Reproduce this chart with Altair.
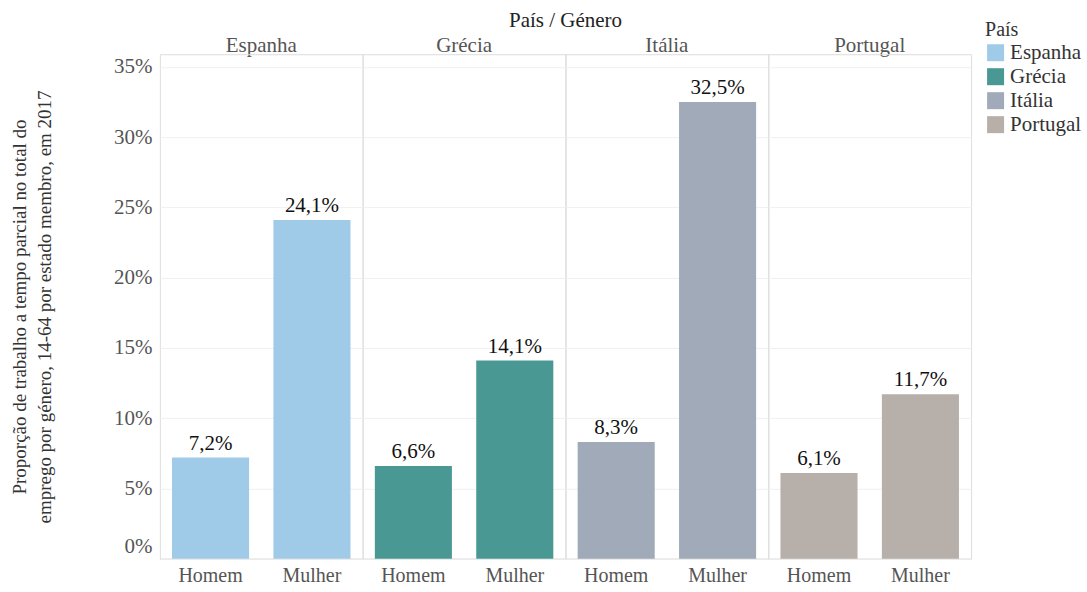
import altair as alt
import pandas as pd

countries = ["Espanha", "Grécia", "Itália", "Portugal"]
genders = ["Homem", "Mulher"]
homem = [0.072, 0.066, 0.083, 0.061]
mulher = [0.241, 0.141, 0.325, 0.117]
colors = ["#a0cbe8", "#499894", "#a0aab8", "#b7afa9"]

rows = []
for c, h, m in zip(countries, homem, mulher):
    rows.append({"País": c, "Género": "Homem", "valor": h})
    rows.append({"País": c, "Género": "Mulher", "valor": m})
df = pd.DataFrame(rows)

FONT = "Liberation Serif"

base = alt.Chart().encode(
    x=alt.X("Género:N", sort=genders, title=None,
            scale=alt.Scale(paddingInner=0.24, paddingOuter=0.12),
            axis=alt.Axis(labelAngle=0, labelFontSize=20, labelColor="#555555",
                          labelPadding=7, ticks=False, domainColor="#cccccc",
                          labelFont=FONT)),
    y=alt.Y("valor:Q", title=["Proporção de trabalho a tempo parcial no total do",
                              "emprego por género, 14-64 por estado membro, em 2017"],
            scale=alt.Scale(domain=[0, 0.359], nice=False),
            axis=alt.Axis(values=[0, 0.05, 0.1, 0.15, 0.2, 0.25, 0.3, 0.35],
                          format=".0%", labelFontSize=21, labelColor="#555555",
                          labelFont=FONT, titleFont=FONT,
                          labelPadding=8, ticks=False, domain=False,
                          gridColor="#f0f0f0", titleFontSize=19,
                          titleFontWeight="normal", titleColor="#333333",
                          titlePadding=59, titleLineHeight=25,
                          labelOffset={"condition": {"test": "datum.value == 0", "value": -12}, "value": 0})),
)

bars = base.mark_bar().encode(
    color=alt.Color("País:N", sort=countries,
                    scale=alt.Scale(domain=countries, range=colors),
                    legend=alt.Legend(title="País", titleFontSize=20, titleFont=FONT,
                                      labelFont=FONT,
                                      titleFontWeight="normal", titleColor="#333333",
                                      labelFontSize=21, labelColor="#333333",
                                      symbolType="square", symbolSize=289,
                                      symbolStrokeWidth=0, rowPadding=2,
                                      titlePadding=2, orient="none",
                                      legendX=826, legendY=-34))
)

text = base.mark_text(dy=-14, fontSize=21, color="#111111", font=FONT).transform_calculate(
    lab="replace(format(datum.valor, '.1%'), '.', ',')"
).encode(text="lab:N")

chart = alt.layer(bars, text, data=df).properties(width=203, height=505).facet(
    column=alt.Column("País:N", sort=countries,
                      header=alt.Header(title="País  /  Género", titleFontSize=21,
                                        titleFontWeight="normal", titleColor="#222222",
                                        titleFont=FONT, titlePadding=-6,
                                        labelFontSize=21, labelColor="#555555",
                                        labelFont=FONT, labelPadding=-2)),
    spacing=0,
    bounds="flush",
).properties(padding={"left": 10, "top": 10, "right": 5, "bottom": 5}).configure(
    font=FONT
).configure_view(stroke="#dddddd")

chart.save("out.html", embed_options={"renderer": "svg", "actions": False})
